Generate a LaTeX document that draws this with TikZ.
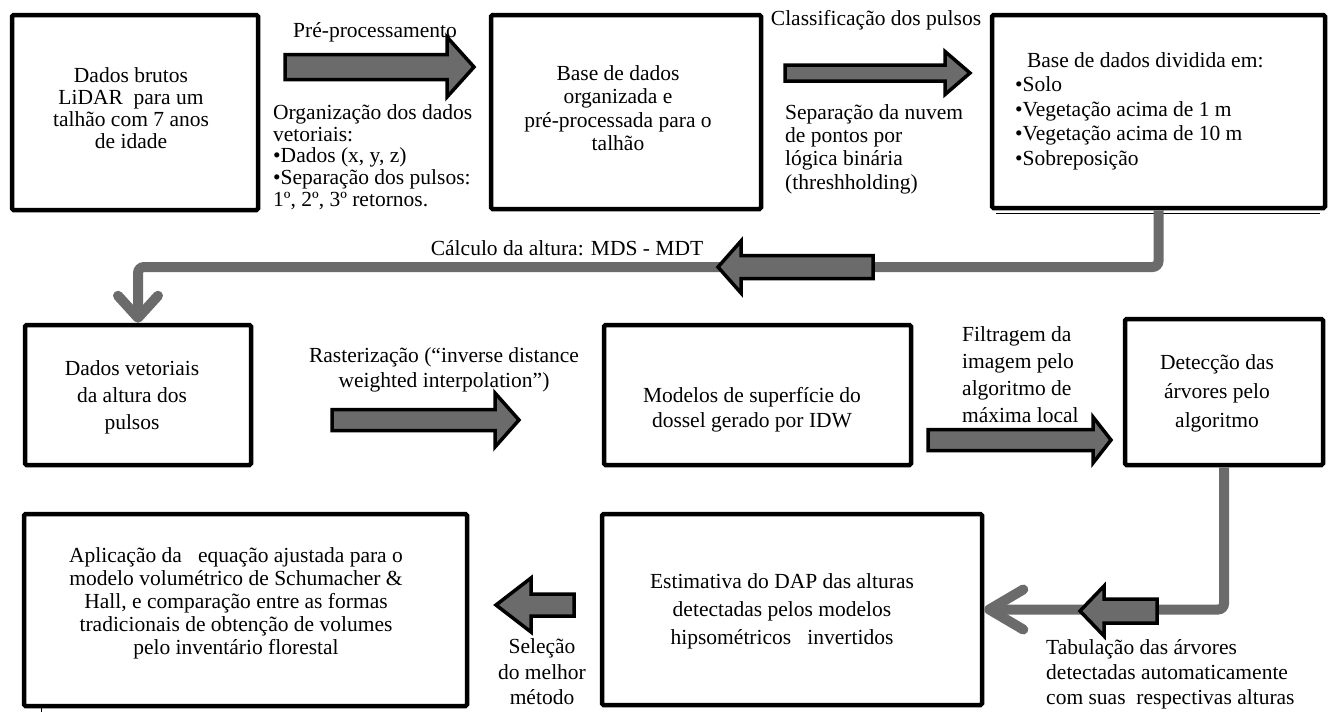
\documentclass[tikz,border=0pt]{standalone}
\usepackage{fontspec}
\setmainfont{Liberation Serif}
\usetikzlibrary{arrows.meta}
\definecolor{agrey}{HTML}{6B6B6B}
\tikzset{
 box/.style={draw=black, line width=4.5pt, rounded corners=1.5pt, inner sep=0pt},
 lbl/.style={font=\fontsize{21.5pt}{#1}\selectfont, inner sep=0pt},
 lbl/.default=23.5pt,
 blockarr/.style={draw=black, fill=agrey, line width=3.5pt, line join=miter},
 conn/.style={draw=agrey, line width=10pt, rounded corners=6pt},
 thinline/.style={draw=black, line width=0.8pt},
}
% x0 xb x1 yc shaft-half head-half
\newcommand{\barrow}[6]{%
 \draw[blockarr] (#1,#4-#5) -- (#2,#4-#5) -- (#2,#4-#6) -- (#3,#4) -- (#2,#4+#6) -- (#2,#4+#5) -- (#1,#4+#5) -- cycle;}
\begin{document}
\begin{tikzpicture}[x=1pt,y=-1pt]
\useasboundingbox (0,0) rectangle (1328,712);
% boxes
\node[box, minimum width=246pt, minimum height=195pt] (b1) at (135,112.5) {};
\node[box, minimum width=270pt, minimum height=194pt] (b2) at (626,112) {};
\node[box, minimum width=333pt, minimum height=193pt] (b3) at (1158.5,111.5) {};
\node[box, minimum width=226pt, minimum height=140pt] (b4) at (138,395) {};
\node[box, minimum width=307pt, minimum height=140pt] (b5) at (757.5,395) {};
\node[box, minimum width=198pt, minimum height=146pt] (b6) at (1224,392) {};
\node[box, minimum width=443pt, minimum height=192pt] (b7) at (245.5,610) {};
\node[box, minimum width=380pt, minimum height=191pt] (b8) at (792,609.5) {};
% stray thin lines
\draw[thinline] ([xshift=6pt,yshift=-3.5pt]b3.south west) -- ([xshift=-7pt,yshift=-3.5pt]b3.south east);
\draw[thinline] ([xshift=20pt]b7.south west) -- ++(0,5);
% grey connectors
\coordinate (c1) at (600,267);
\draw[conn, -{Straight Barb[length=22pt,width=40pt,round]}] (b3.south) |- (c1) -| (b4.north);
\draw[conn, -{Straight Barb[length=34pt,width=40pt,round]}] (b6.south) |- (b8.east);
% block arrows
\barrow{285}{447}{474}{67}{12.5}{30}
\barrow{785}{945}{970}{73}{8}{21.5}
\barrow{873}{741}{718}{267}{11.5}{26}
\barrow{332}{495}{519}{420}{10.5}{27}
\barrow{928}{1093}{1111}{440}{10.5}{23}
\barrow{574}{531}{496}{605}{11}{27}
\barrow{1157}{1104}{1080}{611}{12}{25}
% texts row 1
\node[lbl=21.8pt, align=center] (t1) at (131,108) {Dados brutos\\ LiDAR\ \ para um\\ talhão com 7 anos\\ de idade};
\node[lbl] (pre) at (375,32) {Pré-processamento};
\node[lbl=21.8pt, align=left, anchor=west] (org) at (273,157) {Organização dos dados\\ vetoriais:\\ •Dados (x, y, z)\\ •Separação dos pulsos:\\ 1º, 2º, 3º retornos.};
\node[lbl=23.3pt, align=center] (t2) at (618,108) {Base de dados\\ organizada e\\ pré-processada para o\\ talhão};
\node[lbl] (cls) at (876,20) {Classificação dos pulsos};
\node[lbl=23.3pt, align=left, anchor=west] (sep) at (785,149) {Separação da nuvem\\ de pontos por\\ lógica binária\\ (threshholding)};
\node[lbl=24.5pt, align=left, anchor=west] (t3) at (1015,111) {\hspace*{0.55em}Base de dados dividida em:\\ •Solo\\ •Vegetação acima de 1 m\\ •Vegetação acima de 10 m\\ •Sobreposição};
\node[lbl] (calc) at (567,248) {Cálculo da altura: MDS - MDT};
% row 2
\node[lbl=27pt, align=center] (t4) at (132,397) {Dados vetoriais\\ da altura dos\\ pulsos};
\node[lbl=25pt, align=center] (ras) at (444,370) {Rasterização (“inverse distance\\ weighted interpolation”)};
\node[lbl=25pt, align=center] (t5) at (752,410) {Modelos de superfície do\\ dossel gerado por IDW};
\node[lbl=27pt, align=left, anchor=west] (fil) at (962,375) {Filtragem da\\ imagem pelo\\ algoritmo de\\ máxima local};
\node[lbl=29pt, align=center] (t6) at (1217,393) {Detecção das\\ árvores pelo\\ algoritmo};
% row 3
\node[lbl=23pt, align=center] (t7) at (236,603) {Aplicação da\ \ \ equação ajustada para o\\ modelo volumétrico de Schumacher \&\\ Hall, e comparação entre as formas\\ tradicionais de obtenção de volumes\\ pelo inventário florestal};
\node[lbl=25.5pt, align=center] (sel) at (542,672) {Seleção\\ do melhor\\ método};
\node[lbl=28pt, align=center] (t8) at (782,611) {Estimativa do DAP das alturas\\ detectadas pelos modelos\\ hipsométricos\ \ \ invertidos};
\node[lbl=25pt, align=left, anchor=west] (tab) at (1046,674) {Tabulação das árvores\\ detectadas automaticamente\\ com suas\ \ respectivas alturas};
\end{tikzpicture}
\end{document}
